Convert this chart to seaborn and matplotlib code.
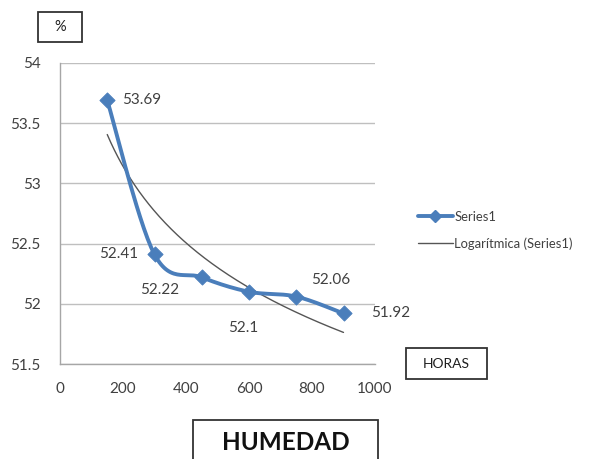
import numpy as np
import seaborn as sns
import matplotlib.pyplot as plt
from matplotlib.lines import Line2D
from matplotlib.patches import Rectangle

# Data
horas = [150, 300, 450, 600, 750, 900]
humedad = [53.69, 52.41, 52.22, 52.1, 52.06, 51.92]
etiquetas = ["53.69", "52.41", "52.22", "52.1", "52.06", "51.92"]
x_ticks = [0, 200, 400, 600, 800, 1000]
y_ticks = [51.5, 52, 52.5, 53, 53.5, 54]

# label offsets in points (dx, dy, ha)
label_pos = [(11, 0, "left"), (-12, 0, "right"), (-30, -9, "center"),
             (-4, -26, "center"), (25, 12, "center"), (20, 0, "left")]

sns.set_style("white")
plt.rcParams['font.family'] = ['Lato', 'DejaVu Sans']

BLUE = "#4A7EBB"
GRAY_TXT = "#404040"

fig = plt.figure(figsize=(6.05, 4.59), dpi=100)
ax = fig.add_axes([60 / 605, 1 - 364 / 459, 315 / 605, 301 / 459])

# smoothed line (Excel style Catmull-Rom in screen-like scale)
sx, sy = 0.315, 120.4
px = np.array(horas) * sx
py = np.array(humedad) * sy
P = np.column_stack([px, py])
P_ext = np.vstack([P[0], P, P[-1]])
curve = []
t = np.linspace(0, 1, 30)
for i in range(len(P) - 1):
    p0, p1, p2, p3 = P_ext[i], P_ext[i + 1], P_ext[i + 2], P_ext[i + 3]
    c1 = p1 + (p2 - p0) / 6
    c2 = p2 - (p3 - p1) / 6
    seg = ((1 - t) ** 3)[:, None] * p1 + (3 * (1 - t) ** 2 * t)[:, None] * c1 \
        + (3 * (1 - t) * t ** 2)[:, None] * c2 + (t ** 3)[:, None] * p2
    curve.append(seg)
curve = np.vstack(curve)
ax.plot(curve[:, 0] / sx, curve[:, 1] / sy, color=BLUE, lw=2.8, zorder=3,
        solid_capstyle="round")
sns.scatterplot(x=horas, y=humedad, marker="D", s=60, color=BLUE,
                edgecolor=BLUE, ax=ax, zorder=4)

# logarithmic trendline
b, a = np.polyfit(np.log(horas), humedad, 1)
xt = np.linspace(horas[0], horas[-1], 200)
sns.lineplot(x=xt, y=a + b * np.log(xt), color="#555555", lw=1.0, ax=ax,
             zorder=2)

for xv, yv, lab, (dx, dy, ha) in zip(horas, humedad, etiquetas, label_pos):
    ax.annotate(lab, (xv, yv), xytext=(dx, dy), textcoords="offset points",
                ha=ha, va="center", fontsize=11, color=GRAY_TXT)

ax.set_xlim(0, 1000)
ax.set_ylim(51.5, 54)
ax.set_xticks(x_ticks)
ax.set_yticks(y_ticks)
ax.set_yticklabels([f"{v:g}" for v in y_ticks])
ax.yaxis.grid(True, color="#BFBFBF", lw=1)
ax.xaxis.grid(False)
for s in ["top", "right"]:
    ax.spines[s].set_visible(False)
for s in ["left", "bottom"]:
    ax.spines[s].set_color("#A6A6A6")
    ax.spines[s].set_linewidth(1)
ax.tick_params(axis="both", which="both", direction="out", length=4,
               color="#A6A6A6", labelsize=11, labelcolor=GRAY_TXT)
ax.tick_params(axis="x", pad=9)
ax.tick_params(axis="y", pad=10)

# legend
handles = [Line2D([0], [0], color=BLUE, lw=2.8, marker="D", markersize=6),
           Line2D([0], [0], color="#555555", lw=1.0)]
fig.legend(handles, ["Series1", "Logarítmica (Series1)"],
           loc="upper left", bbox_to_anchor=(406 / 605, 1 - 199 / 459),
           frameon=False, fontsize=9.4, handlelength=2.7, handletextpad=0.1,
           labelspacing=1.1, labelcolor=GRAY_TXT)


def caja(x0, y0, x1, y1, texto, size, weight="normal"):
    fig.patches.append(Rectangle((x0 / 605, 1 - y1 / 459), (x1 - x0) / 605,
                                 (y1 - y0) / 459, transform=fig.transFigure,
                                 fill=False, edgecolor="#333333", lw=1.3))
    fig.text((x0 + x1) / 2 / 605, 1 - ((y0 + y1) / 2) / 459, texto,
             ha="center", va="center", fontsize=size, weight=weight,
             color="#1F1F1F")


caja(38, 12, 82, 42, "%", 10.5)
caja(406, 348, 487, 379, "HORAS", 10)
fig.text(286 / 605, 1 - 443 / 459, "HUMEDAD", ha="center", va="center",
         fontsize=17.5, weight="bold", color="#111111")
fig.patches.append(Rectangle((193 / 605, -0.01), 185 / 605, (39 + 5) / 459,
                             transform=fig.transFigure, fill=False,
                             edgecolor="#333333", lw=1.3))

fig.savefig("out.png", dpi=100)
